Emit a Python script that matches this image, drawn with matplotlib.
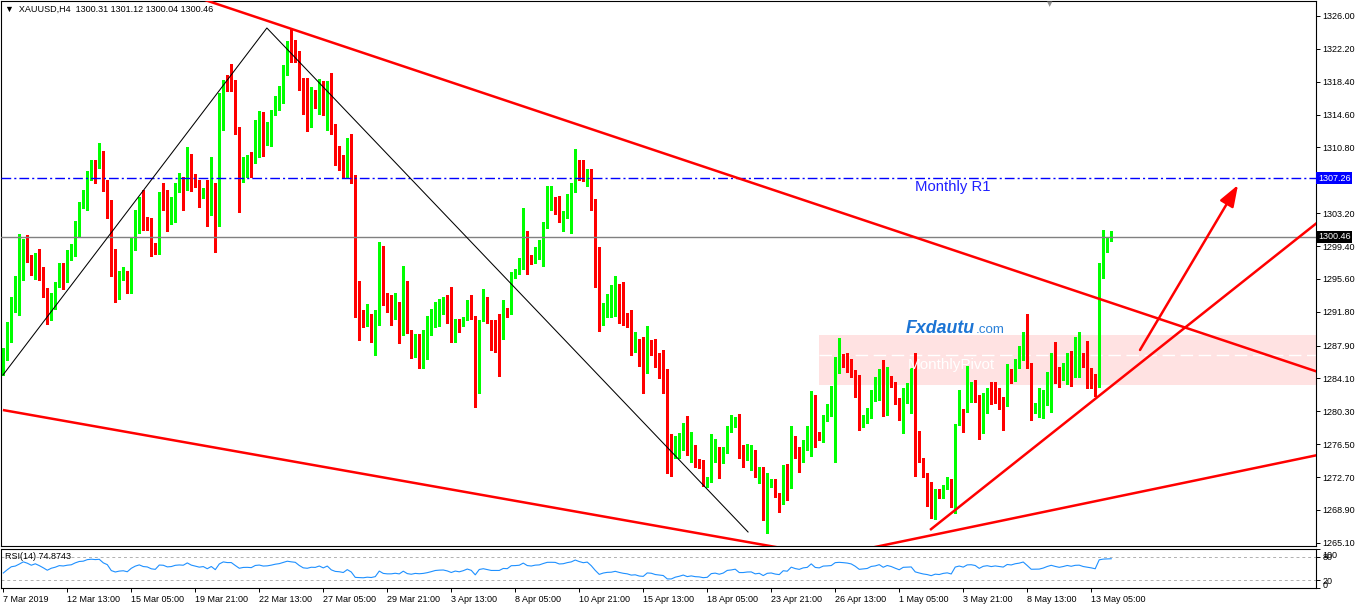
import matplotlib
matplotlib.use("Agg")
import matplotlib.pyplot as plt
import matplotlib.transforms as mtransforms
from matplotlib import font_manager
from matplotlib.patches import Rectangle

# ---------------- data (XAUUSD H4) ----------------
opens = [1285.3,1286.8,1289.0,1292.4,1293.2,1295.6,1299.3,1297.9,1296.3,1298.3,
1296.6,1294.2,1291.0,1293.6,1294.8,1297.2,1296.8,1297.9,1298.4,1301.5,
1304.0,1304.5,1307.8,1308.8,1308.5,1309.0,1306.8,1304.6,1297.2,1294.7,
1295.7,1296.1,1294.6,1299.0,1302.4,1304.7,1302.6,1302.3,1299.5,1298.6,
1305.6,1305.4,1303.1,1303.4,1305.7,1306.3,1306.0,1310.0,1307.6,1305.6,
1305.0,1305.8,1303.1,1306.4,1301.8,1312.9,1317.9,1317.6,1317.4,1313.1,
1307.8,1309.4,1310.2,1309.2,1313.4,1314.4,1312.8,1313.8,1314.6,1316.3,
1317.5,1320.0,1323.2,1321.9,1321.8,1318.2,1314.8,1314.2,1315.7,1315.8,
1317.4,1315.2,1317.9,1312.5,1309.9,1309.8,1307.7,1311.6,1307.3,1291.8,
1291.0,1290.3,1291.0,1290.0,1291.0,1299.3,1293.4,1292.4,1292.0,1292.8,
1291.2,1295.2,1289.4,1287.2,1288.9,1288.0,1288.5,1289.2,1290.9,1292.3,
1293.0,1293.2,1292.0,1289.3,1290.7,1290.3,1291.0,1292.9,1291.2,1282.7,
1290.8,1292.2,1290.7,1290.0,1289.9,1288.9,1291.8,1291.6,1296.1,1296.3,
1297.0,1301.1,1298.0,1297.5,1298.9,1299.1,1301.6,1303.9,1304.2,1304.0,
1302.5,1302.8,1304.5,1305.7,1309.3,1308.3,1307.0,1308.0,1304.7,1298.8,
1290.8,1292.5,1293.5,1293.5,1294.8,1292.9,1291.4,1291.0,1287.8,1288.1,
1285.8,1284.9,1288.3,1287.8,1285.6,1284.5,1283.7,1276.3,1275.0,1276.6,
1277.4,1278.8,1275.5,1276.1,1274.5,1274.0,1272.1,1272.2,1275.6,1275.7,
1274.4,1275.6,1278.0,1278.6,1279.4,1275.4,1274.9,1275.0,1275.6,1273.0,
1273.4,1269.8,1271.7,1272.2,1270.7,1269.7,1273.3,1272.6,1277.2,1275.9,
1274.5,1276.2,1276.7,1282.0,1277.8,1276.9,1279.6,1280.0,1280.6,1285.6,
1286.2,1286.7,1285.6,1285.0,1282.4,1278.7,1279.1,1279.6,1282.2,1282.9,
1284.7,1282.1,1284.3,1283.6,1281.6,1279.5,1282.4,1280.7,1283.0,1276.9,
1274.8,1273.0,1272.0,1269.5,1271.1,1270.4,1271.4,1272.0,1270.3,1278.8,
1280.2,1280.6,1282.4,1282.8,1281.9,1278.2,1281.3,1282.4,1282.8,1282.4,
1281.8,1281.0,1284.8,1284.3,1286.2,1287.0,1289.2,1285.8,1280.6,1280.7,
1280.8,1282.1,1284.3,1286.0,1285.0,1284.3,1285.0,1286.2,1285.4,1286.5,
1286.8,1287.2,1285.1,1284.5,1283.5,1297.4,1299.4,1300.31]

highs = [1287.6,1290.6,1293.5,1295.9,1300.8,1300.2,1300.7,1298.4,1298.6,1299.1,
1297.0,1294.5,1294.0,1295.3,1297.5,1297.4,1298.9,1299.6,1302.3,1304.5,
1305.9,1308.1,1309.4,1309.4,1311.3,1310.4,1307.0,1304.7,1299.1,1296.5,
1297.0,1296.5,1300.3,1303.6,1305.1,1305.9,1302.8,1302.6,1299.8,1305.7,
1306.7,1305.9,1305.1,1306.7,1307.8,1307.4,1310.9,1310.1,1307.7,1307.0,
1306.1,1307.0,1309.7,1306.7,1317.1,1318.6,1319.2,1320.5,1318.6,1313.2,
1309.7,1309.9,1310.3,1314.0,1315.0,1314.9,1313.8,1315.1,1316.8,1317.9,
1320.3,1323.1,1324.5,1323.2,1321.9,1318.8,1318.8,1317.8,1317.4,1318.7,
1318.5,1318.5,1319.4,1313.5,1311.0,1309.9,1311.9,1312.4,1307.6,1295.4,
1292.0,1292.7,1291.6,1292.0,1299.9,1299.4,1294.0,1293.7,1294.0,1292.9,
1297.1,1295.4,1289.7,1289.2,1289.2,1289.7,1291.3,1292.1,1292.9,1293.3,
1293.5,1293.7,1294.7,1291.0,1291.0,1291.2,1293.2,1293.7,1291.3,1290.9,
1294.4,1293.5,1290.9,1290.9,1291.6,1293.2,1292.2,1296.4,1296.8,1298.0,
1303.8,1301.2,1298.4,1299.3,1300.1,1302.2,1306.3,1306.3,1305.1,1305.2,
1303.5,1305.4,1306.7,1310.6,1309.4,1309.3,1308.3,1308.3,1304.8,1299.3,
1292.8,1293.9,1294.9,1295.9,1295.0,1295.2,1291.7,1292.0,1289.5,1288.7,
1288.9,1290.2,1288.5,1288.7,1287.0,1287.4,1285.2,1277.7,1277.4,1277.8,
1279.0,1279.7,1277.9,1276.4,1274.8,1274.7,1272.7,1277.7,1277.1,1276.2,
1276.2,1278.6,1279.9,1279.6,1280.0,1276.4,1276.5,1276.4,1275.8,1273.9,
1273.9,1273.2,1272.5,1272.5,1270.9,1274.1,1274.2,1278.6,1277.4,1276.2,
1277.0,1278.6,1282.6,1282.2,1277.9,1279.9,1281.1,1283.2,1286.6,1288.8,
1286.9,1287.0,1286.3,1285.1,1284.5,1279.9,1280.7,1282.8,1284.3,1285.2,
1286.2,1285.4,1284.4,1283.7,1281.8,1283.0,1283.6,1285.3,1287.0,1278.0,
1274.9,1273.2,1272.1,1271.3,1271.3,1271.8,1272.7,1272.5,1278.8,1282.8,
1280.6,1285.5,1283.7,1283.9,1282.2,1282.4,1283.0,1283.7,1283.7,1283.0,
1282.0,1285.8,1285.2,1286.3,1287.8,1289.5,1291.5,1285.9,1281.3,1283.0,
1282.8,1284.8,1287.0,1288.3,1285.4,1285.9,1287.0,1287.3,1288.9,1289.5,
1287.0,1288.4,1285.3,1284.6,1297.5,1301.3,1300.5,1301.12]

lows = [1284.5,1286.2,1288.3,1291.8,1291.4,1295.5,1297.6,1296.0,1295.6,1295.5,
1293.5,1290.4,1290.9,1292.1,1294.7,1294.4,1295.3,1297.8,1298.3,1300.6,
1303.8,1303.6,1307.0,1306.7,1308.4,1305.8,1302.7,1295.9,1292.9,1293.3,
1295.5,1294.0,1294.0,1298.9,1300.9,1301.3,1301.3,1298.2,1298.5,1298.5,
1303.6,1301.1,1301.9,1302.2,1305.6,1303.6,1305.9,1305.8,1306.2,1303.9,
1304.9,1301.7,1303.0,1298.7,1301.7,1312.8,1317.3,1317.3,1312.4,1303.3,
1306.8,1307.4,1307.4,1309.0,1309.7,1309.8,1311.1,1311.0,1314.5,1315.1,
1315.9,1319.2,1320.7,1320.7,1317.4,1314.7,1312.7,1313.2,1315.4,1314.7,
1314.5,1312.8,1312.4,1308.8,1308.2,1307.4,1307.4,1306.7,1291.2,1288.5,
1290.0,1290.2,1288.3,1286.8,1290.3,1292.6,1291.8,1290.3,1291.0,1288.2,
1289.1,1289.3,1286.5,1286.6,1285.3,1285.3,1286.3,1289.1,1290.1,1290.2,
1291.6,1290.5,1288.3,1288.3,1289.5,1290.2,1290.8,1291.0,1280.8,1282.4,
1290.7,1290.5,1287.4,1287.1,1284.4,1288.7,1291.2,1291.5,1295.7,1296.2,
1296.8,1296.2,1297.3,1297.4,1297.9,1297.1,1301.5,1303.6,1303.1,1302.2,
1301.1,1302.7,1300.9,1305.6,1307.0,1306.9,1306.3,1303.6,1294.7,1289.6,
1290.3,1291.2,1291.2,1291.3,1290.5,1290.3,1290.0,1286.8,1287.1,1285.5,
1282.4,1284.7,1286.8,1285.4,1284.2,1282.4,1273.2,1272.8,1274.9,1274.9,
1275.8,1275.3,1274.4,1273.9,1273.8,1271.7,1271.5,1272.1,1274.4,1272.6,
1274.3,1275.5,1277.9,1278.5,1274.9,1273.9,1274.7,1273.5,1272.7,1272.0,
1267.7,1266.2,1271.5,1270.4,1268.7,1269.6,1270.0,1271.4,1274.9,1273.3,
1274.4,1275.8,1275.1,1276.2,1277.0,1276.7,1279.2,1279.8,1274.4,1284.7,
1285.4,1284.8,1284.3,1281.9,1278.1,1278.5,1278.9,1279.5,1281.5,1281.6,
1279.8,1279.9,1283.1,1281.2,1279.3,1277.8,1281.3,1280.1,1272.8,1274.4,
1272.7,1269.3,1268.0,1267.8,1270.3,1270.3,1271.3,1269.2,1268.5,1278.7,
1277.9,1280.2,1281.4,1281.4,1277.1,1277.8,1280.1,1281.2,1281.3,1280.6,
1278.1,1280.9,1283.6,1283.8,1285.3,1286.2,1285.3,1279.3,1280.1,1279.6,
1279.5,1281.0,1280.2,1283.6,1283.1,1283.9,1283.5,1283.2,1284.3,1284.3,
1285.4,1283.0,1283.0,1282.1,1283.1,1295.7,1298.7,1300.04]

closes = [1286.8,1289.5,1292.5,1293.3,1295.8,1299.3,1298.1,1296.2,1298.3,1296.5,
1294.1,1291.0,1293.5,1294.9,1297.2,1296.8,1297.9,1298.5,1301.5,1304.0,
1304.6,1307.8,1308.8,1308.5,1309.1,1306.2,1304.5,1297.1,1294.7,1295.8,
1296.2,1294.7,1299.1,1302.5,1304.7,1302.5,1302.0,1299.4,1298.6,1305.6,
1305.3,1303.1,1303.6,1305.7,1306.3,1306.0,1310.0,1307.5,1306.3,1305.0,
1305.8,1303.1,1306.3,1301.8,1312.6,1318.4,1317.4,1317.4,1312.9,1307.8,
1309.5,1309.7,1309.2,1313.5,1314.4,1312.9,1313.3,1314.6,1316.4,1317.5,
1320.0,1322.8,1322.1,1321.6,1318.0,1314.8,1314.2,1315.7,1315.5,1317.5,
1315.2,1317.9,1312.5,1309.8,1309.2,1307.8,1311.6,1307.3,1291.8,1291.0,
1290.2,1291.0,1289.9,1291.0,1299.4,1293.2,1291.9,1291.9,1292.8,1291.2,
1295.4,1289.4,1287.6,1288.9,1288.0,1288.5,1289.5,1290.9,1292.5,1293.0,
1293.2,1291.8,1289.2,1290.9,1289.7,1291.0,1293.0,1291.2,1282.8,1290.8,
1292.2,1290.5,1288.9,1288.9,1288.9,1291.8,1291.5,1296.3,1296.5,1297.1,
1301.1,1298.0,1297.4,1298.9,1299.3,1301.7,1304.0,1304.1,1304.0,1302.5,
1302.9,1304.6,1305.8,1309.3,1308.0,1307.0,1308.0,1304.6,1298.6,1290.8,
1292.6,1293.5,1293.7,1294.8,1292.9,1291.3,1290.3,1287.8,1288.1,1285.6,
1284.9,1288.3,1287.8,1285.5,1284.5,1283.6,1275.2,1275.0,1276.7,1277.6,
1278.8,1275.4,1276.1,1274.4,1273.9,1272.1,1272.4,1275.7,1276.2,1274.4,
1275.5,1278.2,1278.7,1279.5,1275.0,1275.0,1275.5,1275.6,1272.9,1273.4,
1269.8,1271.8,1272.1,1270.5,1269.7,1273.2,1272.6,1277.2,1275.5,1274.5,
1276.3,1276.9,1282.0,1277.7,1277.1,1279.8,1280.1,1280.6,1285.6,1286.2,
1285.9,1285.5,1284.7,1282.4,1278.8,1279.3,1279.8,1282.3,1283.0,1284.7,
1282.0,1284.4,1283.3,1281.4,1279.5,1282.5,1282.8,1283.0,1276.6,1274.7,
1272.9,1271.8,1269.6,1271.1,1270.4,1271.5,1272.0,1270.3,1278.5,1280.2,
1278.8,1282.5,1282.8,1281.9,1278.2,1281.4,1282.4,1281.3,1282.3,1281.7,
1281.0,1284.8,1284.3,1286.2,1287.2,1289.2,1285.6,1280.7,1280.8,1280.9,
1282.2,1284.3,1286.0,1284.8,1283.8,1284.8,1286.2,1285.4,1286.6,1286.8,
1285.6,1285.0,1284.4,1283.6,1297.4,1299.4,1299.8,1300.46]

x_tick_labels = ["7 Mar 2019", "12 Mar 13:00", "15 Mar 05:00", "19 Mar 21:00",
                 "22 Mar 13:00", "27 Mar 05:00", "29 Mar 21:00", "3 Apr 13:00",
                 "8 Apr 05:00", "10 Apr 21:00", "15 Apr 13:00", "18 Apr 05:00",
                 "23 Apr 21:00", "26 Apr 13:00", "1 May 05:00", "3 May 21:00",
                 "8 May 13:00", "13 May 05:00"]
x_tick_step = 16

price_ticks = [1326.00, 1322.20, 1318.40, 1314.60, 1310.80, 1303.20, 1299.40,
               1295.60, 1291.80, 1287.90, 1284.10, 1280.30, 1276.50, 1272.70,
               1268.90, 1265.10]

rsi_levels = [80, 20]
rsi_label_vals = [100, 80, 20, 0]
rsi_seed_gain, rsi_seed_loss = 0.5, 0.8
rsi_text = "RSI(14) 74.8743"

monthly_r1 = 1307.26
last_price = 1300.46
pivot_zone_low, pivot_zone_high = 1283.34, 1289.12
monthly_pivot = 1286.80
pivot_zone_start_bar = 203.9

# trendlines (bar index, price)
zigzag_bars = [-0.075, 65.9, 186.2]
zigzag_prices = [1284.5, 1324.61, 1266.35]
upper_down_bars = [50.4, 328.7]
upper_down_prices = [1327.85, 1284.85]
lower_down_bars = [-0.1, 200.0]
lower_down_prices = [1280.45, 1264.05]
lower_up_bars = [210.0, 330.0]
lower_up_prices = [1263.85, 1275.38]
support_bars = [231.7, 328.7]
support_prices = [1266.58, 1302.18]
arrow_from = (284.2, 1287.39)
arrow_to = (308.7, 1306.46)

# ---------------- fonts ----------------
avail = {f.name for f in font_manager.fontManager.ttflist}
mt_font = "Liberation Sans Narrow" if "Liberation Sans Narrow" in avail else "Liberation Sans"
mt_family = [mt_font, "DejaVu Sans"]
mt_size = 7.0 if mt_font == "Liberation Sans Narrow" else 6.5
arial = ["Liberation Sans", "DejaVu Sans"]
plt.rcParams["font.family"] = mt_family

# ---------------- figure ----------------
W, H = 1355, 606
fig = plt.figure(figsize=(W / 100, H / 100), dpi=100)
fig.patch.set_facecolor("white")

def px_axes(l, t, r, b):
    return fig.add_axes([l / W, 1 - b / H, (r - l) / W, (b - t) / H])

ax = px_axes(1, 1, 1316, 546)
ax2 = px_axes(1, 549, 1316, 588)

n = len(closes)
xs = list(range(n))
x_lo, x_hi = -0.575, 328.2
ax.set_xlim(x_lo, x_hi)
ax.set_ylim(1264.73, 1327.73)

GREEN, RED = "#00FF00", "#FF0000"
cols = [GREEN if c >= o else RED for o, c in zip(opens, closes)]

# pivot zone
ax.add_patch(Rectangle((pivot_zone_start_bar, pivot_zone_low), x_hi - pivot_zone_start_bar,
                       pivot_zone_high - pivot_zone_low, facecolor="#FFE2E2",
                       edgecolor="none", zorder=0.5))
ax.plot([pivot_zone_start_bar, x_hi], [monthly_pivot, monthly_pivot], color="white",
        lw=1.0, dashes=(9, 4), zorder=0.8)

# candles
ax.vlines(xs, lows, highs, colors=cols, lw=0.75, zorder=2, antialiased=False)
bottoms = [min(o, c) for o, c in zip(opens, closes)]
heights = [max(abs(c - o), 0.08) for o, c in zip(opens, closes)]
ax.bar(xs, heights, bottom=bottoms, width=0.75, color=cols, linewidth=0,
       zorder=2.5, antialiased=False)

# horizontal lines
ax.axhline(monthly_r1, color="#0000FF", lw=1.0, dashes=(7, 2.2, 1.5, 2.2), zorder=3)
ax.axhline(last_price, color="#808080", lw=1.0, zorder=3)

# trendlines
ax.plot(zigzag_bars, zigzag_prices, color="black", lw=0.75, zorder=3)
for bx, py in [(upper_down_bars, upper_down_prices), (lower_down_bars, lower_down_prices),
               (lower_up_bars, lower_up_prices), (support_bars, support_prices)]:
    ax.plot(bx, py, color=RED, lw=1.8, zorder=3.5, solid_capstyle="butt")
ax.annotate("", xy=arrow_to, xytext=arrow_from,
            arrowprops=dict(arrowstyle="-|>,head_length=0.5,head_width=0.18",
                            mutation_scale=26, color=RED, lw=1.8,
                            shrinkA=0, shrinkB=0), zorder=3.5)

# texts
ax.text(227.9, 1306.23, "Monthly R1", color="#2020FF", fontsize=10.7, family=arial,
        ha="left", va="center", zorder=4)
ax.text(226.2, 1285.65, "MonthlyPivot", color="white", fontsize=11, family=arial,
        ha="left", va="center", zorder=4)
ax.text(225.7, 1289.35, "Fxdautu", color="#1C74D4", fontsize=12.8, family=arial,
        fontweight="bold", fontstyle="italic", ha="left", va="baseline", zorder=4)
ax.text(243.2, 1289.35, ".com", color="#2A80D8", fontsize=9.6, family=arial,
        ha="left", va="baseline", zorder=4)

ax.text(4 / 1315, 1 - 8 / 545,
        "\u25BC  XAUUSD,H4  %.2f %.2f %.2f %.2f" % (opens[-1], highs[-1], lows[-1], closes[-1]),
        transform=ax.transAxes, fontsize=mt_size, ha="left", va="center", color="black",
        zorder=5)
ax.text((1050 - 1) / 1315, 1.0, "\u25BC", transform=ax.transAxes, fontsize=5,
        color="#909090", ha="center", va="top", family=["DejaVu Sans"])

# right axis
ax.yaxis.tick_right()
ax.set_yticks(price_ticks)
ax.set_yticklabels(["%.2f" % p for p in price_ticks])
ax.tick_params(axis="y", direction="out", length=3, width=0.7, labelsize=mt_size, pad=1.5,
               colors="black")
ax.set_xticks([])
for s in ax.spines.values():
    s.set_linewidth(0.8)

# price tags
tr = mtransforms.blended_transform_factory(ax.transAxes, ax.transData)
ax.text(1.0015, monthly_r1, "%.2f" % monthly_r1, transform=tr, color="white",
        fontsize=mt_size, ha="left", va="center", zorder=6, clip_on=False,
        bbox=dict(boxstyle="square,pad=0.2", facecolor="#0000FF", edgecolor="none"))
ax.text(1.0015, last_price, "%.2f" % last_price, transform=tr, color="white",
        fontsize=mt_size, ha="left", va="center", zorder=6, clip_on=False,
        bbox=dict(boxstyle="square,pad=0.2", facecolor="black", edgecolor="none"))

# ---------------- RSI ----------------
rsi = []
ag, al = rsi_seed_gain, rsi_seed_loss
for i in range(n):
    if i > 0:
        d = closes[i] - closes[i - 1]
        ag = (ag * 13 + max(d, 0)) / 14
        al = (al * 13 + max(-d, 0)) / 14
    rsi.append(100 * ag / (ag + al))

ax2.set_xlim(x_lo, x_hi)
ax2.set_ylim(0, 100)
ax2.plot(xs, rsi, color="#1E90FF", lw=0.8)
for lv in rsi_levels:
    ax2.axhline(lv, color="#B0B0B0", lw=0.7, dashes=(3, 3))
ax2.text(4 / 1315, 0.82, rsi_text, transform=ax2.transAxes, fontsize=mt_size,
         ha="left", va="center")
ax2.yaxis.tick_right()
ax2.set_yticks(rsi_label_vals)
ax2.set_yticklabels([str(v) for v in rsi_label_vals])
ax2.tick_params(axis="y", direction="out", length=3, width=0.7, labelsize=mt_size, pad=1.5)
# keep the top/bottom RSI labels inside the panel like the terminal does
shift = {100: -5, 0: 4}
for val, lbl in zip(rsi_label_vals, ax2.get_yticklabels()):
    if val in shift:
        lbl.set_transform(lbl.get_transform() +
                          mtransforms.ScaledTranslation(0, shift[val] / 100, fig.dpi_scale_trans))
ax2.set_xticks([i * x_tick_step for i in range(len(x_tick_labels))])
ax2.set_xticklabels(x_tick_labels)
ax2.tick_params(axis="x", direction="out", length=3, width=0.7, labelsize=mt_size, pad=2)
for lbl in ax2.get_xticklabels():
    lbl.set_horizontalalignment("left")
for s in ax2.spines.values():
    s.set_linewidth(0.8)

fig.savefig("out.png", dpi=100, facecolor="white")
